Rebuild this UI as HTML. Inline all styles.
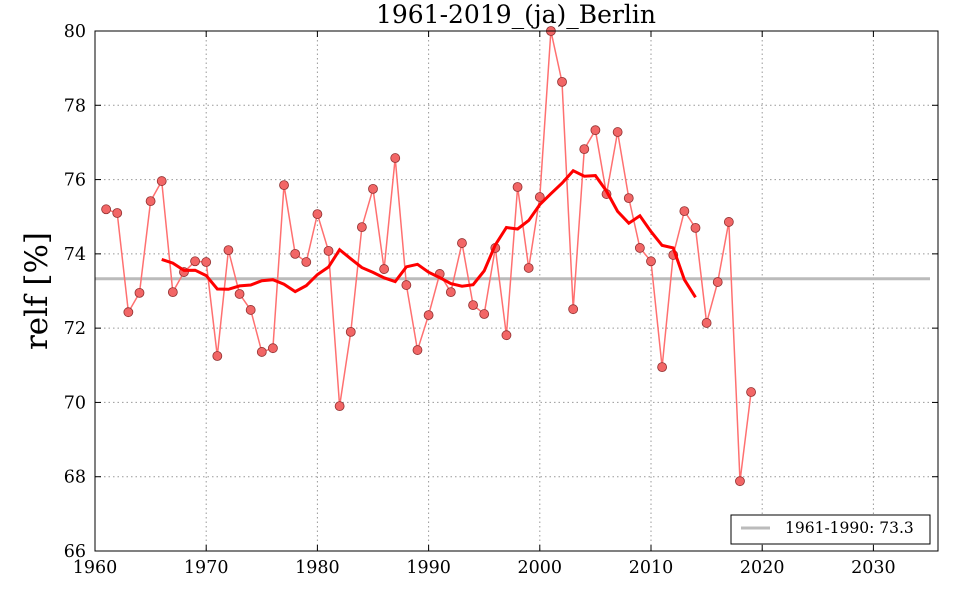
<!DOCTYPE html>
<html><head><meta charset="utf-8"><style>
html,body{margin:0;padding:0;background:#fff;}
svg{display:block;font-family:"DejaVu Serif","Liberation Serif",serif;}
</style></head><body>
<svg id="s" width="960" height="600" xmlns="http://www.w3.org/2000/svg"></svg>
<script>
const s=document.getElementById('s');
const L=95,R=938,T=31,B=551;
const X=y=>L+(y-1960)*111.2/10;
const Y=v=>T+(80-v)*(B-T)/14;
const vals=[75.2,75.1,72.43,72.95,75.42,75.96,72.97,73.51,73.8,73.78,71.25,74.1,72.92,72.49,71.36,71.46,75.85,74.0,73.78,75.07,74.08,69.9,71.9,74.72,75.75,73.59,76.58,73.16,71.41,72.35,73.46,72.97,74.29,72.62,72.38,74.16,71.81,75.8,73.62,75.53,80.0,78.63,72.51,76.82,77.33,75.61,77.28,75.5,74.16,73.8,70.95,73.97,75.15,74.7,72.14,73.24,74.86,67.88,70.28];
let h='';
for(let yr=1970;yr<=2030;yr+=10){const x=X(yr);h+=`<line x1="${x}" y1="${T}" x2="${x}" y2="${B}" stroke="#999" stroke-dasharray="1.5,3" stroke-width="1"/>`;}
for(let v=68;v<=78;v+=2){const y=Y(v);h+=`<line x1="${L}" y1="${y}" x2="${R}" y2="${y}" stroke="#999" stroke-dasharray="1.5,3" stroke-width="1"/>`;}
h+=`<line x1="${L}" y1="${Y(73.33)}" x2="930" y2="${Y(73.33)}" stroke="#bbb" stroke-width="3"/>`;
let p=vals.map((v,i)=>X(1961+i).toFixed(1)+','+Y(v).toFixed(1)).join(' ');
h+=`<polyline points="${p}" fill="none" stroke="#ff7070" stroke-width="1.5"/>`;
vals.forEach((v,i)=>{h+=`<circle cx="${X(1961+i)}" cy="${Y(v)}" r="4.5" fill="#f26666" stroke="#903030" stroke-width="0.8"/>`;});
let rp=[];for(let i=5;i+5<vals.length;i++){let m=0;for(let j=i-5;j<=i+5;j++)m+=vals[j];m/=11;rp.push(X(1961+i).toFixed(1)+','+Y(m).toFixed(1));}
h+=`<polyline points="${rp.join(' ')}" fill="none" stroke="#f00" stroke-width="3"/>`;
h+=`<rect x="${L}" y="${T}" width="${R-L}" height="${B-T}" fill="none" stroke="#000" stroke-width="1"/>`;
for(let yr=1960;yr<=2030;yr+=10){const x=X(yr);h+=`<line x1="${x}" y1="${B}" x2="${x}" y2="${B-6}" stroke="#000"/><line x1="${x}" y1="${T}" x2="${x}" y2="${T+6}" stroke="#000"/><text x="${x}" y="${B+22}" font-size="17.5" text-anchor="middle">${yr}</text>`;}
for(let v=66;v<=80;v+=2){const y=Y(v);h+=`<line x1="${L}" y1="${y}" x2="${L+6}" y2="${y}" stroke="#000"/><line x1="${R}" y1="${y}" x2="${R-6}" y2="${y}" stroke="#000"/><text x="${L-9}" y="${y+6}" font-size="17.5" text-anchor="end">${v}</text>`;}
h+=`<text x="516" y="23" font-size="25" text-anchor="middle">1961-2019_(ja)_Berlin</text>`;
h+=`<text transform="translate(47,291) rotate(-90)" font-size="31" text-anchor="middle">relf [%]</text>`;
h+=`<rect x="731" y="515" width="199" height="29" fill="#fff" stroke="#000"/><line x1="741" y1="528" x2="770" y2="528" stroke="#bbb" stroke-width="3"/><text x="785" y="533" font-size="15.5">1961-1990: 73.3</text>`;
s.innerHTML=h;
</script>
</body></html>
